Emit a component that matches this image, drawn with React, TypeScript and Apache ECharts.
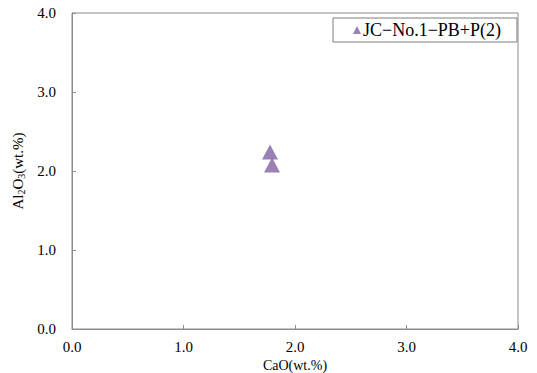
import React, { useEffect, useRef } from "react";
import * as echarts from "echarts";

const seriesName = "JC\u2212No.1\u2212PB+P(2)";
const caoValues = [1.776, 1.794];
const al2o3Values = [2.24, 2.075];
const axisTicks = [0, 1, 2, 3, 4];

const FONT = "'Liberation Serif', 'DejaVu Serif', serif";

export default function App() {
  const ref = useRef<HTMLDivElement>(null);
  useEffect(() => {
    if (!ref.current) return;
    const chart = echarts.init(ref.current, undefined, { renderer: "svg" });
    const data = caoValues.map((x, i) => [x, al2o3Values[i]]);
    chart.setOption({
      animation: false,
      backgroundColor: "#ffffff",
      textStyle: { fontFamily: FONT, color: "#000" },
      grid: {
        left: 72,
        right: 19,
        top: 13,
        bottom: 44,
        show: true,
        borderColor: "#8c8c8c",
        borderWidth: 1,
        containLabel: false,
        outerBoundsMode: "none",
      },
      legend: {
        left: 333,
        top: 18,
        padding: [3, 16, 3, 20],
        borderColor: "#7f7f7f",
        borderWidth: 1,
        itemWidth: 8,
        itemHeight: 8,
        itemGap: 4,
        textStyle: { fontFamily: FONT, fontSize: 18, color: "#000", padding: [0, 0, 0, -3] },
        data: [{ name: seriesName, icon: "triangle" }],
      },
      xAxis: {
        type: "value",
        min: axisTicks[0],
        max: axisTicks[axisTicks.length - 1],
        interval: 1,
        name: "CaO(wt.%)",
        nameLocation: "middle",
        nameGap: 25,
        nameTextStyle: { fontFamily: FONT, fontSize: 14, color: "#000" },
        axisLine: { lineStyle: { color: "#8c8c8c" } },
        axisTick: { inside: true, length: 4, lineStyle: { color: "#8c8c8c" } },
        axisLabel: {
          margin: 10,
          fontFamily: FONT,
          fontSize: 15,
          color: "#000",
          formatter: (v: number) => v.toFixed(1),
        },
        splitLine: { show: false },
      },
      yAxis: {
        type: "value",
        min: axisTicks[0],
        max: axisTicks[axisTicks.length - 1],
        interval: 1,
        name: "{a|Al}{s|2}{a|O}{s|3}{a|(wt.%)}",
        nameLocation: "middle",
        nameGap: 43,
        nameTextStyle: {
          fontFamily: FONT,
          fontSize: 15,
          color: "#000",
          rich: {
            a: { fontFamily: FONT, fontSize: 15, color: "#000" },
            s: { fontFamily: FONT, fontSize: 10, color: "#000", verticalAlign: "bottom", padding: [7, 0, 0, 0] },
          },
        },
        axisLine: { lineStyle: { color: "#8c8c8c" } },
        axisTick: { inside: true, length: 4, lineStyle: { color: "#8c8c8c" } },
        axisLabel: {
          margin: 16,
          fontFamily: FONT,
          fontSize: 15,
          color: "#000",
          formatter: (v: number) => v.toFixed(1),
        },
        splitLine: { show: false },
      },
      series: [
        {
          name: seriesName,
          type: "scatter",
          symbol: "triangle",
          symbolSize: [16, 15],
          itemStyle: { color: "#7f62a0" },
          data,
        },
      ],
    });
    return () => chart.dispose();
  }, []);
  return (
    <div
      ref={ref}
      style={{ position: "absolute", left: 0, top: 0, width: 537, height: 373 }}
    />
  );
}
